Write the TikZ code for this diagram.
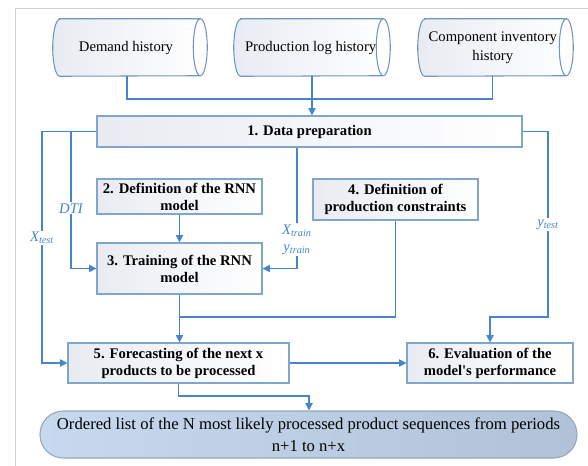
\documentclass[tikz,border=0pt]{standalone}
\usepackage{fontspec}
\setmainfont{Liberation Serif}
\usepackage{tikz}
\usetikzlibrary{arrows.meta}

\definecolor{lnblue}{RGB}{72,132,204}
\definecolor{bxedge}{RGB}{128,166,204}
\definecolor{bxfill}{RGB}{232,236,242}
\definecolor{cyedge}{RGB}{110,150,195}
\definecolor{outleft}{RGB}{198,217,238}
\definecolor{outright}{RGB}{176,194,215}
\definecolor{outedge}{RGB}{150,166,186}

\tikzset{
  stepbox/.style={draw=bxedge, line width=0.9pt, left color=bxfill, right color=white,
    minimum width=123.75pt, align=center, inner sep=1pt,
    font=\fontsize{11}{12.75}\selectfont\bfseries},
  store/.style={minimum height=42.75pt, align=center, inner sep=1pt,
    font=\fontsize{11}{14}\selectfont},
  drum/.style={draw=cyedge, line width=0.8pt},
  flow/.style={draw=lnblue, line width=0.9pt},
  flowto/.style={flow, -{Triangle[length=5.5pt,width=5.5pt]}},
  lbl/.style={fill=white, text=lnblue, inner sep=1pt, align=center,
    font=\fontsize{11}{12.75}\selectfont\itshape}
}

% outline of a lying data store round node #1
\newcommand{\drumline}[1]{%
  \draw [drum, left color=bxfill, right color=white]
    ([xshift=5.25pt]#1.north west) -- ([xshift=-5.25pt]#1.north east)
    arc [start angle=-90, end angle=90, x radius=7, y radius=28.5]
    -- ([xshift=5.25pt]#1.south west)
    arc [start angle=90, end angle=270, x radius=7, y radius=28.5] -- cycle;
  \draw [drum] ([xshift=-5.25pt]#1.north east)
    arc [start angle=270, end angle=90, x radius=7, y radius=28.5];}

\begin{document}
\begin{tikzpicture}[x=0.75pt,y=0.75pt,yscale=-1,xscale=1]
\useasboundingbox (0,0) rectangle (588,466);

%Frame
\draw [color={rgb, 255:red, 208; green, 208; blue, 208 }] (15,470) -- (15,8) -- (592,8) ;

% Data stores
\path (130,47.5) node (dem) [store, minimum width=115.5pt] {};
\path (312,47.5) node (plog) [store, minimum width=117pt] {};
\path (495.5,47.5) node (inv) [store, minimum width=116.25pt] {};
\drumline{dem}
\drumline{plog}
\drumline{inv}
% Text Node
\draw ([xshift=-3pt]dem.center) node [store] {Demand history};
\draw ([xshift=-1pt]plog.center) node [store] {Production log history};
\draw ([xshift=-2pt]inv.center) node [store] {Component inventory\\history};

% Step boxes
\draw (309.5,131.5) node (prep) [stepbox, minimum width=318.75pt, minimum height=23.25pt] {1. Data preparation};
\draw (179.5,196.5) node (rnn) [stepbox, minimum height=26.25pt] {2. Definition of the RNN\\model};
\draw (179.5,268.5) node (train) [stepbox, minimum height=38.25pt] {3. Training of the RNN\\model};
\draw (395.5,199.5) node (cons) [stepbox, minimum height=30.75pt] {4. Definition of\\production constraints};
\draw (178.5,363) node (fore) [stepbox, minimum width=165.75pt, minimum height=30pt] {5. Forecasting of the next x\\products to be processed};
\draw (490,363) node (eval) [stepbox, minimum width=124.5pt, minimum height=30pt] {6. Evaluation of the\\model\textquotesingle s performance};

% Result
\draw (308.5,434.5) node (res) [draw=outedge, line width=0.8pt, left color=outleft, right color=outright,
  rounded corners=17.5pt, minimum width=402.75pt, minimum height=35.25pt, align=center,
  inner sep=1pt, font=\fontsize{12.5}{16.5}\selectfont]
  {Ordered list of the N most likely processed product sequences from periods\\n+1 to n+x};

% Junctions
\coordinate (join) at (311,99);
\coordinate (xte) at (42,131.5);
\coordinate (dti) at (71,131.5);
\coordinate (yte) at (548,317);
\coordinate (mrg) at (179.5,317);
\coordinate (outj) at (309,396);

% Inputs to data preparation
\draw [flow] ([xshift=-2.25pt]dem.south) |- (join);
\draw [flow] ([xshift=-2.25pt]inv.south) |- (join);
\draw [flowto] (plog.south) -- (plog.south |- prep.north);

% Data split
\draw [flowto] (prep.west) -- (xte) |- (fore.west) node [lbl, pos=0.23] {X\textsubscript{test}};
\draw [flowto] (dti) |- (train.west) node [lbl, pos=0.28] {DTI};
\draw [flowto] ([xshift=-9.4pt]prep.south) |- (train.east) node [lbl, pos=0.38] {X\textsubscript{train}\\y\textsubscript{train}};
\draw [flowto] (prep.east) -| (yte) node [lbl, pos=0.75] {y\textsubscript{test}} -| (eval.north);

% Model chain
\draw [flowto] (rnn.south) -- (rnn.south |- train.north);
\draw [flowto] (train.south) -- (train.south |- fore.north);
\draw [flow] (cons.south) |- (mrg);
\draw [flowto] (fore.east) -- (fore.east -| eval.west);
\draw [flowto] (fore.south) |- (outj) -- (outj |- res.north);

\end{tikzpicture}
\end{document}
